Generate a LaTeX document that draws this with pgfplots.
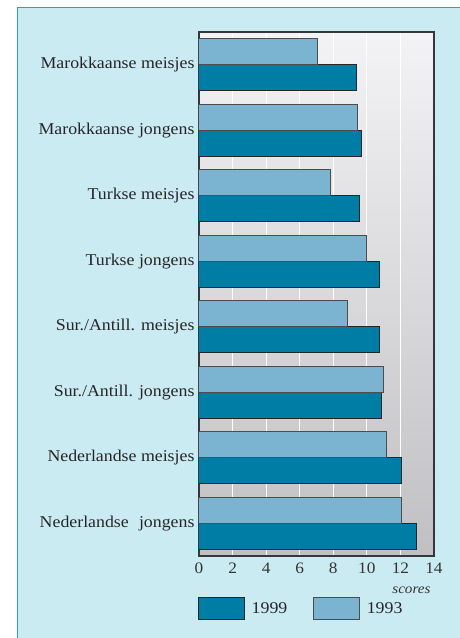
\documentclass[border=0pt]{standalone}
\usepackage{fontspec}
\setmainfont{Liberation Serif}[FakeStretch=1.08]
\usepackage{pgfplots}
\pgfplotsset{compat=1.18}
\definecolor{outerbg}{RGB}{203,235,243}
\definecolor{outerline}{RGB}{30,165,204}
\definecolor{darkbar}{RGB}{0,125,165}
\definecolor{lightbar}{RGB}{122,180,208}
\definecolor{bgtop}{RGB}{243,243,245}
\definecolor{bgbot}{RGB}{192,192,194}
\definecolor{frame}{RGB}{55,55,58}
\begin{document}
\begin{tikzpicture}
\path[use as bounding box] (0pt,0pt) rectangle (460pt,638pt);
\fill[outerbg] (17.5pt,0pt) rectangle (460pt,630pt);
\draw[outerline, line width=1pt] (17.5pt,0pt) -- (17.5pt,630pt) -- (460pt,630pt);
\begin{axis}[
  at={(199pt,82pt)}, anchor=south west,
  scale only axis, width=235pt, height=524pt,
  xmin=0, xmax=14, ymin=-0.5, ymax=7.5,
  xtick={0,2,...,14}, ytick={0,...,7},
  yticklabels={Nederlandse\hspace{0.35em} jongens, Nederlandse meisjes, Sur./Antill. jongens, Sur./Antill. meisjes, Turkse jongens, Turkse meisjes, Marokkaanse jongens, Marokkaanse meisjes},
  major tick length=0pt,
  /pgf/number format/assume math mode=true,
  ticklabel style={font=\fontsize{16}{18}\selectfont, text=black!80},
  yticklabel style={font=\fontsize{16.5}{18}\selectfont, text=black!85, xshift=-1pt},
  xticklabel style={yshift=-3pt},
  axis line style={frame, line width=1.2pt},
  axis background/.style={top color=bgtop, bottom color=bgbot},
  xmajorgrids, grid style={white, line width=1pt},
  xbar, bar width=0.4,
  legend style={at={(0,0)}, anchor=north west, xshift=-4pt, yshift=-39pt, draw=none, fill=none,
    font=\fontsize{16.5}{18}\selectfont, text=black!85, legend columns=2,
    /tikz/every odd column/.append style={column sep=5pt},
    /tikz/every even column/.append style={column sep=24pt}},
  legend image code/.code={\draw[#1] (0pt,-11pt) rectangle (45.5pt,11pt);},
]
\addplot[fill=darkbar, draw=black!85, line width=1pt, bar shift=-0.2] coordinates {
  (12.96,0) (12.08,1) (10.87,2) (10.75,3) (10.77,4) (9.56,5) (9.66,6) (9.37,7)};
\addplot[fill=lightbar, draw=black!70, line width=1pt, bar shift=0.2] coordinates {
  (12.06,0) (11.15,1) (10.97,2) (8.87,3) (9.96,4) (7.86,5) (9.46,6) (7.07,7)};
\legend{1999, 1993}
\end{axis}
\node[anchor=base east, font=\fontsize{14}{16}\selectfont\itshape, text=black!80] at (434pt,45pt) {scores};
\end{tikzpicture}
\end{document}
